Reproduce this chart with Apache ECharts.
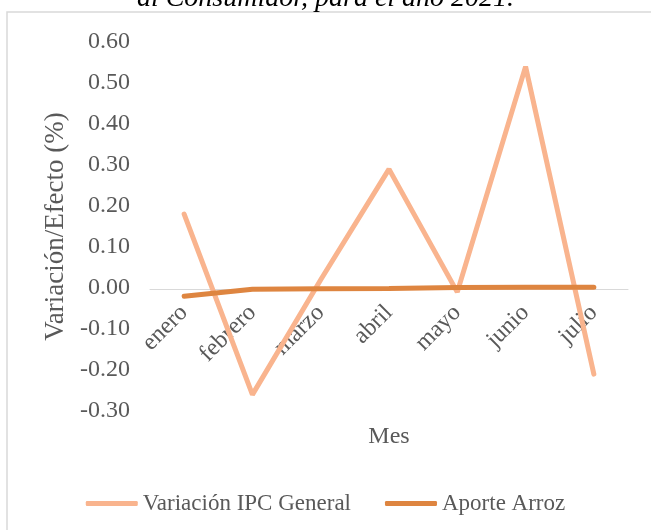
<!DOCTYPE html>
<html>
<head>
<meta charset="utf-8">
<script src="https://cdn.jsdelivr.net/npm/echarts@6/dist/echarts.min.js"></script>
<style>
  html, body { margin: 0; padding: 0; background: #fff; }
  #chart { width: 651px; height: 530px; }
</style>
</head>
<body>
<div id="chart"></div>
<script>
// meses
var meses = ['enero', 'febrero', 'marzo', 'abril', 'mayo', 'junio', 'julio'];
// variacion IPC general (%)
var ipcGeneral = [0.18, -0.26, 0.02, 0.29, -0.01, 0.54, -0.21];
// aporte del arroz (%)
var aporteArroz = [-0.02, -0.003, -0.002, -0.001, 0.001, 0.002, 0.002];

var fuente = '"Liberation Serif", "DejaVu Serif", serif';
var gris = '#595959';

var chart = echarts.init(document.getElementById('chart'));
var option = {
  animation: false,
  title: {
    text: 'al Consumidor, para el año 2021.',
    left: 'center',
    top: -20,
    textStyle: { fontFamily: fuente, fontSize: 28, fontStyle: 'italic', fontWeight: 'normal', color: '#000' }
  },
  graphic: [{
    type: 'rect',
    shape: { x: 7, y: 12, width: 660, height: 540 },
    style: { fill: 'none', stroke: '#D9D9D9', lineWidth: 1.5 },
    silent: true
  }],
  grid: { left: 150, right: 23, top: 42, bottom: 119, outerBoundsMode: 'none' },
  legend: {
    bottom: 10,
    left: 'center',
    icon: 'roundRect',
    itemWidth: 52,
    itemHeight: 5,
    itemGap: 34,
    textStyle: { fontFamily: fuente, fontSize: 23, color: gris },
    data: ['Variación IPC General', 'Aporte Arroz']
  },
  xAxis: {
    type: 'category',
    data: meses,
    // el eje de categorias cruza en 0.00
    offset: -122,
    name: 'Mes',
    nameLocation: 'middle',
    nameGap: 136,
    nameTextStyle: { fontFamily: fuente, fontSize: 24, color: gris },
    axisLine: { onZero: false, lineStyle: { color: '#D9D9D9', width: 1 } },
    axisTick: { show: false },
    axisLabel: { rotate: 45, margin: 20, fontFamily: fuente, fontSize: 24, color: gris }
  },
  yAxis: {
    type: 'value',
    min: -0.3,
    max: 0.6,
    interval: 0.1,
    name: 'Variación/Efecto (%)',
    nameLocation: 'middle',
    nameGap: 76,
    nameTextStyle: { fontFamily: fuente, fontSize: 27, color: gris },
    axisLine: { show: false },
    axisTick: { show: false },
    splitLine: { show: false },
    axisLabel: {
      margin: 20,
      fontFamily: fuente, fontSize: 24, color: gris,
      formatter: function (v) { return v.toFixed(2); }
    }
  },
  series: [{
    name: 'Variación IPC General',
    type: 'line',
    data: ipcGeneral,
    showSymbol: false,
    symbol: 'none',
    color: '#F9B48E',
    lineStyle: { width: 5, color: '#F9B48E', cap: 'round' }
  }, {
    name: 'Aporte Arroz',
    type: 'line',
    data: aporteArroz,
    showSymbol: false,
    symbol: 'none',
    color: '#DE8540',
    lineStyle: { width: 5, color: '#DE8540', cap: 'round' }
  }]
};
chart.setOption(option);
</script>
</body>
</html>
